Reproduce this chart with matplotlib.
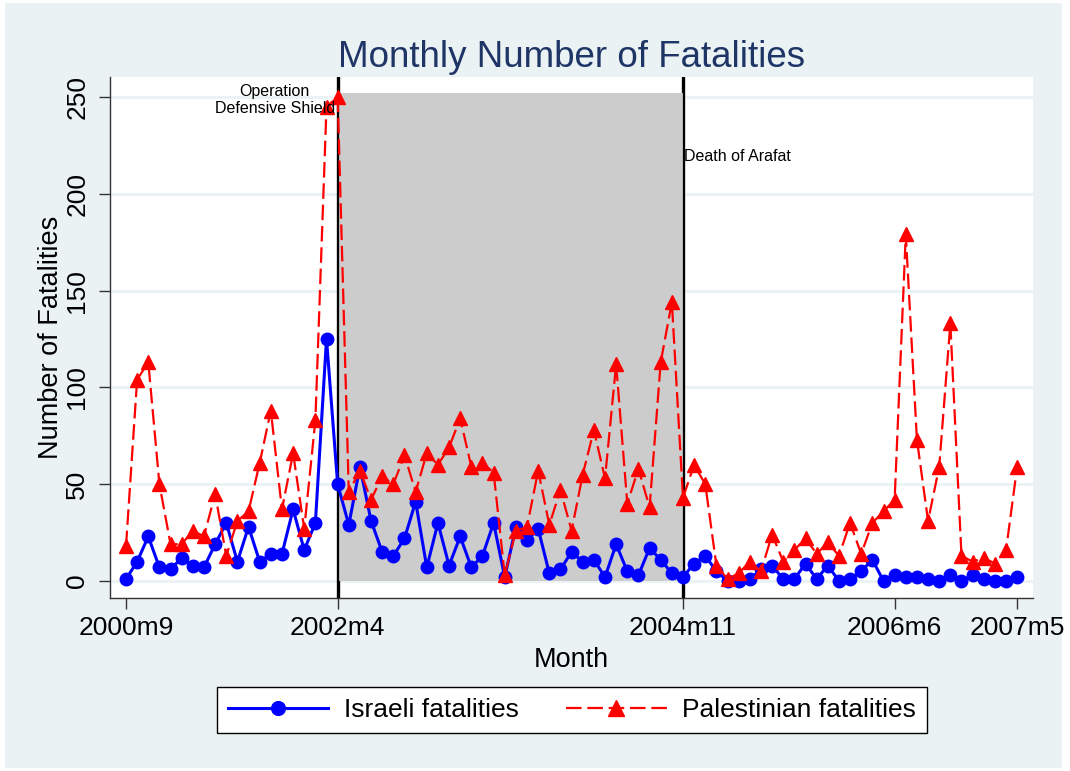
import numpy as np
import pandas as pd
import matplotlib
matplotlib.use('Agg')
import matplotlib.pyplot as plt
from matplotlib.patches import Rectangle

plt.rcParams['font.family'] = ['Liberation Sans', 'DejaVu Sans']

# ---------------- data ----------------
start_month = '2000-09'
end_month = '2007-05'

israeli = [1, 10, 23, 7, 6, 12, 8, 7, 19, 30,
           10, 28, 10, 14, 14, 37, 16, 30, 125, 50,
           29, 59, 31, 15, 13, 22, 41, 7, 30, 8,
           23, 7, 13, 30, 2, 28, 21, 27, 4, 6,
           15, 10, 11, 2, 19, 5, 3, 17, 11, 4,
           2, 9, 13, 5, 0, 0, 1, 6, 8, 1,
           1, 9, 1, 8, 0, 1, 5, 11, 0, 3,
           2, 2, 1, 0, 3, 0, 3, 1, 0, 0,
           2]

palestinian = [18, 104, 113, 50, 19, 19, 26, 23, 45, 13,
               31, 36, 61, 88, 37, 66, 27, 83, 245, 250,
               46, 57, 42, 54, 50, 65, 46, 66, 60, 69,
               84, 59, 61, 56, 3, 26, 28, 57, 29, 47,
               26, 55, 78, 53, 112, 40, 58, 38, 113, 144,
               43, 60, 50, 8, 1, 4, 10, 5, 24, 10,
               16, 22, 14, 20, 13, 30, 14, 30, 36, 42,
               179, 73, 31, 59, 133, 13, 10, 12, 9, 16,
               59]

tick_labels = ['2000m9', '2002m4', '2004m11', '2006m6', '2007m5']
y_ticks = [0, 50, 100, 150, 200, 250]
event_months = ['2002m4', '2004m11']
event_names = ['Operation\nDefensive Shield', 'Death of Arafat']
shade_top = 252
series_names = ['Israeli fatalities', 'Palestinian fatalities']

# ---------------- helpers ----------------
months = pd.period_range(start_month, end_month, freq='M')


def month_index(lbl):
    y, m = lbl.split('m')
    p = pd.Period(year=int(y), month=int(m), freq='M')
    return (p - months[0]).n


x = np.arange(len(months))

W, H = 1070, 771
fig = plt.figure(figsize=(W / 100, H / 100), dpi=100, facecolor='white')
bg = Rectangle((5 / W, 3 / H), (1062 - 5) / W, (768 - 3) / H,
               transform=fig.transFigure, facecolor='#EAF2F3',
               edgecolor='none', zorder=-10)
fig.patches.append(bg)

ax = fig.add_axes([110 / W, 1 - 598 / H, (1033 - 110) / W, (598 - 77) / H])
ax.set_zorder(1)
ax.set_facecolor('white')

# grid
ax.set_axisbelow(True)
ax.yaxis.grid(True, color='#EAF2F3', lw=2)
ax.xaxis.grid(False)

e0, e1 = month_index(event_months[0]), month_index(event_months[1])

# thick event lines (full height)
for e in (e0, e1):
    ax.axvline(e, color='black', lw=2.4, zorder=1.0)
# shaded period
ax.fill_between([e0, e1], 0, shade_top, color='#CCCCCC', lw=0, zorder=1.2)
for e in (e0, e1):
    ax.plot([e, e], [0, shade_top], color='black', lw=0.9, zorder=1.3)

# series
l1, = ax.plot(x, israeli, color='#0000FF', lw=2.2, marker='o', ms=9,
              label=series_names[0], zorder=3)
l2, = ax.plot(x, palestinian, color='#FF0000', lw=1.6, ls=(0, (7, 2.6)),
              marker='^', ms=10, label=series_names[1], zorder=4)

# annotations
ax.text(e0 - 0.25, 248.4, event_names[0], ha='right', va='center',
        multialignment='center', fontsize=11.5, color='black', zorder=5)
ax.text(e1 + 0.1, 219, event_names[1], ha='left', va='center',
        fontsize=11.5, color='black', zorder=5)

# axes limits / ticks
ax.set_xlim(-1.436, 81.42)
ax.set_ylim(-8.78, 260.3)
ax.set_xticks([month_index(t) for t in tick_labels])
ax.set_xticklabels(tick_labels)
ax.set_yticks(y_ticks)
ax.set_yticklabels([str(v) for v in y_ticks], rotation=90, va='center')
ax.tick_params(axis='both', direction='out', length=8, width=1,
               color='#333333', labelsize=19, labelcolor='black')
ax.tick_params(axis='y', pad=7)
ax.tick_params(axis='x', pad=5)

for s in ('top', 'right'):
    ax.spines[s].set_visible(False)
for s in ('left', 'bottom'):
    ax.spines[s].set_color('#333333')
    ax.spines[s].set_linewidth(1)

# titles
fig.text(571.5 / W, 1 - 67 / H, 'Monthly Number of Fatalities', ha='center',
         va='baseline', fontsize=26.5, color='#1F3566')
fig.text(571.5 / W, 1 - 667 / H, 'Month', ha='center', va='baseline',
         fontsize=19.5, color='black')
fig.text(58 / W, 1 - 337 / H, 'Number of Fatalities', rotation=90,
         rotation_mode='anchor', ha='center', va='baseline', fontsize=19.5,
         color='black')

leg = fig.legend(handles=[l1, l2], loc='center',
                 bbox_to_anchor=(572 / W, 1 - 710 / H), ncol=2,
                 frameon=True, fancybox=False, edgecolor='black',
                 fontsize=19, handlelength=3.8, handletextpad=0.6,
                 columnspacing=1.8, borderpad=0.4, numpoints=1,
                 markerscale=1.1)
leg.get_frame().set_linewidth(1.0)
leg.get_frame().set_facecolor('white')
leg.get_frame().set_alpha(1)
leg.set_zorder(5)

fig.savefig('out.png', dpi=100, facecolor='white')
